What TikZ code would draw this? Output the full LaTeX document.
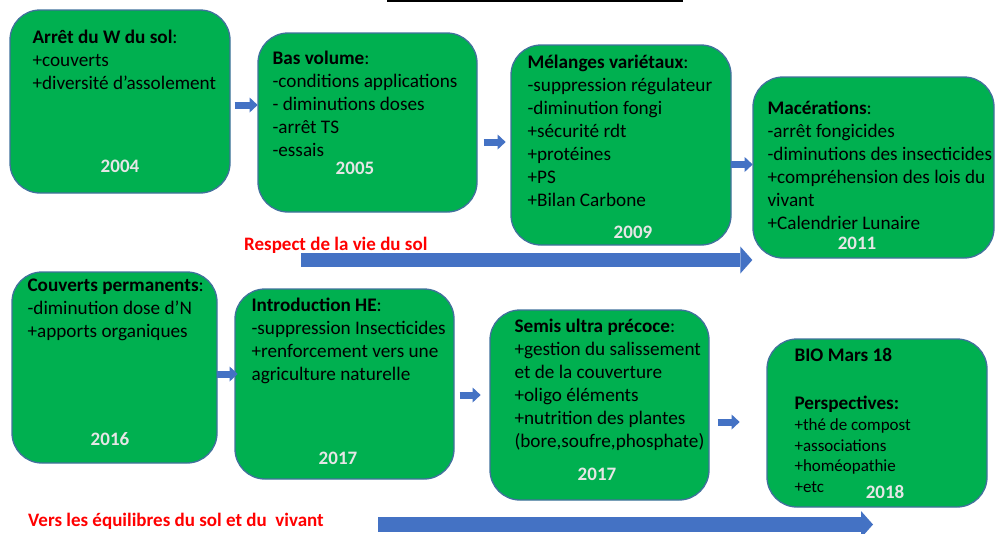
\documentclass[tikz,border=0pt]{standalone}
\usepackage{fontspec}
\setmainfont{Carlito}
\usetikzlibrary{arrows.meta,positioning}
\definecolor{boxgreen}{RGB}{0,176,80}
\definecolor{boxline}{RGB}{65,113,156}
\definecolor{arrblue}{RGB}{68,114,196}
\definecolor{yrgray}{RGB}{230,230,230}

\tikzset{
  box/.style={draw=boxline, line width=1.3pt, fill=boxgreen, rounded corners=30pt, inner sep=0pt},
  txt/.style={anchor=north west, inner sep=0pt, align=left, font=\fontsize{19.2}{23}\selectfont},
  ptxt/.style={anchor=north west, inner sep=0pt, align=left, font=\fontsize{17}{20.5}\selectfont},
  yr/.style={inner sep=0pt, text=yrgray, font=\bfseries\fontsize{19}{23}\selectfont},
  lbl/.style={anchor=base west, inner sep=0pt, text=red, font=\bfseries\fontsize{19}{23}\selectfont},
  smallarr/.style={draw=arrblue, line width=7pt, -{Triangle[length=8pt,width=15pt,line width=0pt]}},
  bigarr/.style={draw=arrblue, line width=14pt, -{Triangle[length=12pt,width=27pt,line width=0pt]}}
}

\begin{document}
\begin{tikzpicture}[x=1pt,y=-1pt]
  \useasboundingbox (0,0) rectangle (995,533);
  \draw[line width=2pt] (387,1) -- (683,1);

  % first row
  \node[box, minimum width=220pt, minimum height=183pt] (b1) at (120,101.5) {};
  \node[box, minimum width=219pt, minimum height=179pt] (b2) at (367.5,122.5) {};
  \node[box, minimum width=220pt, minimum height=200pt] (b3) at (621,145) {};
  \node[box, minimum width=241pt, minimum height=181pt] (b4) at (873.5,167.5) {};
  % second row
  \node[box, minimum width=205pt, minimum height=191pt] (b5) at (114.5,367.5) {};
  \node[box, minimum width=219pt, minimum height=190pt] (b6) at (344.5,384) {};
  \node[box, minimum width=219pt, minimum height=190pt] (b7) at (599.5,405) {};
  \node[box, minimum width=220pt, minimum height=168pt] (b8) at (877,423) {};

  \node[txt] (t1) at ([shift={(23,17.5)}]b1.north west)
    {\strut\textbf{Arrêt du W du sol}:\\+couverts\\+diversité d’assolement};
  \node[txt] (t2) at ([shift={(15,15.5)}]b2.north west)
    {\strut\textbf{Bas volume}:\\-conditions applications\\- diminutions doses\\-arrêt TS\\-essais};
  \node[txt] (t3) at ([shift={(17,8)}]b3.north west)
    {\strut\textbf{Mélanges variétaux}:\\-suppression régulateur\\-diminution fongi\\+sécurité rdt\\+protéines\\+PS\\+Bilan Carbone};
  \node[txt] (t4) at ([shift={(15,22)}]b4.north west)
    {\strut\textbf{Macérations}:\\-arrêt fongicides\\-diminutions des insecticides\\+compréhension des lois du\\vivant\\+Calendrier Lunaire};
  \node[txt] (t5) at ([shift={(16,4)}]b5.north west)
    {\strut\textbf{Couverts permanents}:\\-diminution dose d’N\\+apports organiques};
  \node[txt] (t6) at ([shift={(17,7)}]b6.north west)
    {\strut\textbf{Introduction HE}:\\-suppression Insecticides\\+renforcement vers une\\agriculture naturelle};
  \node[txt] (t7) at ([shift={(25,7)}]b7.north west)
    {\strut\textbf{Semis ultra précoce}:\\+gestion du salissement\\et de la couverture\\+oligo éléments\\+nutrition des plantes\\(bore,soufre,phosphate)};
  \node[txt] (bio) at ([shift={(28,7)}]b8.north west) {\strut\textbf{BIO Mars 18}};
  \node[txt, below=24pt of bio.south west, anchor=north west] (pers) {\strut\textbf{Perspectives:}};
  \node[ptxt] (plist) at (pers.south west)
    {\strut+thé de compost\\+associations\\+homéopathie\\+etc};

  \foreach \n/\x/\y/\t in {y1/120/166/2004, y2/355/168/2005, y3/633/232/2009, y4/857/243/2011,
                           y5/110/439/2016, y6/338/458/2017, y7/597/474/2017, y8/885/492/2018}
    \node[yr] (\n) at (\x,\y) {\t};

  % arrows
  \draw[smallarr] ([shift={(4,3.5)}]b1.east) -- ++(23,0);
  \draw[smallarr] ([shift={(6,19.5)}]b2.east) -- ++(22,0);
  \draw[smallarr] ([shift={(-1,19.5)}]b3.east) -- ++(22,0);
  \draw[smallarr] ([shift={(-1,6.5)}]b5.east) -- ++(21,0);
  \draw[smallarr] ([shift={(5,11)}]b6.east) -- ++(21,0);
  \draw[smallarr] ([shift={(8,17)}]b7.east) -- ++(22,0);

  \coordinate (r0) at (301,260);
  \draw[bigarr] (r0) -- (r0 -| b4.west);
  \coordinate (v0) at (378,524.5);
  \coordinate (v1) at (873,524.5);
  \draw[bigarr, line width=15pt] (v0) -- (v1);

  \node[lbl] (lresp) at (244,250.5) {Respect de la vie du sol};
  \node[lbl] (lvers) at (28,526.5) {Vers les équilibres du sol et du\ \ vivant};
\end{tikzpicture}
\end{document}
